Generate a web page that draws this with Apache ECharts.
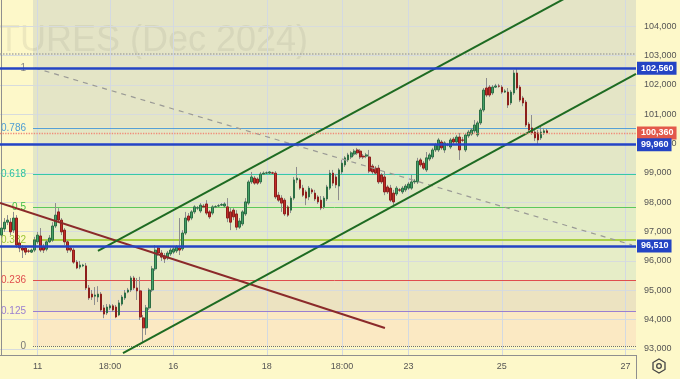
<!DOCTYPE html>
<html><head><meta charset="utf-8">
<script src="https://cdn.jsdelivr.net/npm/echarts@6/dist/echarts.min.js"></script>
<style>html,body{margin:0;padding:0;background:#fdf8c9}#c{width:680px;height:379px}</style>
</head><body><div id="c"></div>
<script>
const opens=[96880,97090,97320,97320,97050,97460,96610,96440,96440,96340,96300,96370,96650,96850,96480,96400,96650,96710,97190,97670,97390,97050,96650,96440,96370,95960,95790,95830,95830,95080,94870,94800,94770,94870,94400,94230,94400,94470,94430,94160,94530,94740,94940,95010,95420,95080,94980,94060,93720,94400,95010,95730,96440,96270,96170,96100,96240,96300,96340,96440,96410,96950,97530,97460,97670,97800,97700,97870,97940,97670,97630,97840,97870,97900,97870,97840,97670,97730,97600,97150,97260,97600,97970,98690,98820,98790,98690,98960,98990,98990,99000,98990,98240,98140,98070,97840,97730,98140,98760,98760,98480,98350,98180,98420,98310,98180,98070,97840,98110,98480,98990,98860,98550,99030,99270,99440,99540,99640,99780,99740,99570,99570,99540,99230,99160,99160,98930,98860,98520,98480,98310,98280,98420,98350,98420,98480,98480,98690,98690,99440,99330,99100,99470,99540,99780,99780,100050,99780,99950,99880,100150,100050,100220,100120,99780,100260,100320,100430,100290,100700,101140,101890,101920,101720,101920,101960,101920,101750,101750,101380,101720,102400,101920,101550,101410,100660,100530,100390,100360,100190,100360,100430];
const closes=[97120,97320,97390,96990,97460,96540,96440,96370,96300,96330,96370,96710,96880,96370,96370,96650,96780,97190,97560,97390,96990,96650,96370,96370,95960,95760,95860,95860,95080,94740,94770,94840,94870,94330,94190,94430,94470,94330,94090,94570,94770,94910,95010,95420,95080,94980,94090,93720,94400,95010,95730,96370,96270,96130,96070,96270,96370,96410,96480,96370,96950,97460,97390,97670,97840,97810,97900,97840,97630,97500,97840,97850,97880,97920,97940,97460,97320,97500,97150,97360,97670,98010,98690,98860,98650,98650,98960,98990,99000,99030,98990,98180,98070,97970,97600,97560,98140,98760,98820,98480,98240,98140,98480,98350,98110,98010,97800,98140,98520,98990,98650,98590,99100,99330,99510,99610,99680,99740,99680,99540,99540,99610,99060,99030,98990,98690,98690,98350,98350,98070,98010,98480,98410,98480,98550,98620,98690,98720,99400,99270,99160,99510,99610,99780,99950,100120,99850,100020,99960,100120,100050,100220,99780,100110,100290,100390,100460,100630,100700,101140,101820,101650,101650,101920,101960,101950,101750,101790,101310,101750,102400,101890,101480,101380,100630,100460,100360,100190,100120,100390,100430,100360];
const lows=[96780,96990,97220,96880,96950,96440,96300,96100,96200,96270,96270,96300,96580,96300,96270,96330,96610,96650,97120,97320,96880,96540,96270,96300,95900,95720,95720,95790,95010,94670,94670,94500,94600,94260,94050,94160,94330,94260,94050,94120,94470,94670,94900,94940,95010,94670,93990,93200,93480,94330,94940,95660,96170,96000,95930,96030,96170,96240,96270,96200,96340,96880,97320,97390,97600,97730,97630,97800,97560,97430,97560,97800,97840,97870,97840,97320,97050,97390,97050,97090,97190,97530,97900,98620,98590,98590,98620,98930,98960,98960,98960,98110,98010,97670,97530,97500,97630,98070,98650,98420,98180,97900,98070,98280,98040,97940,97730,97770,98040,98420,98550,98480,98070,98960,99200,99370,99470,99570,99610,99470,99470,99500,98990,98960,98930,98620,98620,98240,98280,98010,97870,98210,98350,98280,98350,98420,98420,98620,98620,99200,99100,99030,99400,99470,99710,99710,99780,99680,99900,99810,99980,99980,99440,100050,99710,100190,100260,100360,100220,100630,101070,101580,101580,101650,101890,101900,101690,101720,101210,101310,101650,101820,101410,101270,100560,100390,100290,100080,99950,100120,100290,100320];
const highs=[97260,97460,97560,97460,97670,97560,96710,96540,96500,96400,96420,96820,96990,97120,96580,96710,96880,97320,97970,97800,97460,97120,96710,96500,96440,96030,96000,95900,95930,95180,95010,95110,95140,94940,94500,94530,94530,94530,94500,94670,94840,95010,95080,95490,95490,95420,95460,94160,94500,95080,95830,96540,96510,96370,96270,96340,96440,96480,96540,97460,97050,97670,97630,97730,97900,97870,97970,97940,98070,97730,97900,97900,97940,97970,98000,98140,97800,97800,97730,97460,97730,98140,98760,99030,98890,98850,99030,99050,99050,99060,99040,99060,98350,98240,98140,97900,98210,98860,99200,98820,98590,98420,98550,98480,98420,98240,98210,98210,98590,99100,99100,98960,99160,99440,99570,99680,99740,99810,99850,99810,99640,99680,99780,99300,99230,99270,98990,99030,98590,98590,98420,98550,98480,98550,98620,98690,98930,98790,99510,99510,99400,99710,99680,99850,100020,100190,100120,100080,100020,100190,100220,100290,100360,100220,100360,100460,100530,100800,100770,101210,101890,102230,101990,101990,102030,102030,101990,101850,101890,101820,102500,102570,101990,101620,101480,100730,100970,100530,100460,100630,100530,100500];

const slotCount=211;
const xTickIdx=[12,36,57,88,113,135,166,207];
const xTickLabels=['11','18:00','16','18','18:00','23','25','27'];
const yTicks=[93000,94000,95000,96000,97000,98000,99000,100000,101000,102000,103000,104000];
const yMin=92796, yMax=104887;
const fibLow=93100, fibHigh=102560;
const fibRatios=[0,0.125,0.236,0.382,0.5,0.618,0.786,1];
const fibLabels=['0','0.125','0.236','0.382','0.5','0.618','0.786','1'];
const fibLineColors=['#6f6f6f','#9a7fd0','#e04e4e','#a9cf45','#5cc85c','#36c9a6','#56a0d6','#888888'];
const fibTextColors=['#777777','#9a7fd0','#e04e4e','#9cc437','#44c044','#2fc49e','#4f9ed4','#888888'];
const fibBandColors=['#fbe9c3','#ece3c1','#e6edc7','#e3ecc6','#e1eac6','#e3e7c6','#e4e5c6','#e4e4c6'];
const keyLevels=[102560,99960,96510];
const lastPrice=100360;
const dottedLevel=103050;
const fibStart=10.45, xEnd=210.5;
const upperChannel=[[32.0,96340],[198.2,105568]];
const lowerChannel=[[40.3,92864],[210.5,102367]];
const maroonLine=[[-0.5,97973],[127.2,93716]];
const dashedLine=[[11.1,102571],[209.2,96543]];

const fmt=v=>Math.round(v).toLocaleString('en-US');
const cats=Array.from({length:slotCount},(_, i)=>String(i));
const wickData=opens.map((o,i)=>[o,closes[i],lows[i],highs[i]]);
const bodyData=opens.map((o,i)=>[o,closes[i],Math.min(o,closes[i]),Math.max(o,closes[i])]);
const fibPrices=fibRatios.map(r=>fibLow+r*(fibHigh-fibLow));
const FONT='Liberation Sans';

const bands=[];
for(let i=0;i<fibPrices.length;i++){
  const top=i<fibPrices.length-1?fibPrices[i+1]:yMax;
  bands.push([{coord:[fibStart,fibPrices[i]],itemStyle:{color:fibBandColors[i]}},{coord:[xEnd,top]}]);
}
const fibLines=fibPrices.map((p,i)=>[
  {coord:[fibStart,p],lineStyle:{color:fibLineColors[i],width:i===3?2.2:1,type:i===0?'dotted':'solid',opacity:1},
   label:{show:true,position:'start',distance:7,formatter:fibLabels[i],color:fibTextColors[i],fontSize:10,fontFamily:FONT}},
  {coord:[xEnd,p]}
]);

const chart=echarts.init(document.getElementById('c'),null,{renderer:'canvas'});
chart.setOption({
  animation:false,
  backgroundColor:'#fdf8c9',
  grid:{left:0,right:44,top:0,bottom:24},
  xAxis:[
    {type:'category',data:cats,boundaryGap:true,show:false},
    {type:'value',min:-0.5,max:xEnd,position:'bottom',
     axisLine:{show:true,lineStyle:{color:'#8f8f8f',width:1}},
     axisTick:{show:false,customValues:xTickIdx},
     axisLabel:{customValues:xTickIdx,formatter:v=>{const k=xTickIdx.indexOf(Math.round(v));return k>=0?xTickLabels[k]:'';},
       color:'#555',fontSize:9,fontFamily:FONT,margin:7},
     splitLine:{show:true,lineStyle:{color:'#d3d9e2',width:1}}}
  ],
  yAxis:{type:'value',position:'right',min:yMin,max:yMax,
    axisLine:{show:true,lineStyle:{color:'#8f8f8f',width:1}},
    axisTick:{show:false,customValues:yTicks},
    axisLabel:{customValues:yTicks,formatter:v=>fmt(v),color:'#555',fontSize:9,fontFamily:FONT,margin:8},
    splitLine:{show:true,lineStyle:{color:'#d7dbdd',width:1}}},
  graphic:[
    {type:'text',left:-2,top:23,z:-0.5,silent:true,style:{text:'TURES (Dec 2024)',font:'36px "Liberation Sans"',fill:'rgba(110,110,100,0.11)'}},
    {type:'line',shape:{x1:636.5,y1:355,x2:636.5,y2:379},style:{stroke:'#8f8f8f',lineWidth:1}},
    {type:'polygon',shape:{points:[[659,359],[665,362.5],[665,369.5],[659,373],[653,369.5],[653,362.5]]},style:{fill:'none',stroke:'#444',lineWidth:1.3}},
    {type:'circle',shape:{cx:659,cy:366,r:2.3},style:{fill:'none',stroke:'#444',lineWidth:1.3}}
  ],
  series:[
    {type:'line',xAxisIndex:1,data:[],silent:true,
     markArea:{silent:true,z:-1,data:bands}},
    {type:'line',xAxisIndex:1,data:[],silent:true,
     markLine:{silent:true,symbol:'none',z:1,data:fibLines}},
    {type:'line',xAxisIndex:1,data:[],silent:true,
     markLine:{silent:true,symbol:'none',z:2,label:{show:false},
       data:[{yAxis:dottedLevel,lineStyle:{color:'#a9a9a2',type:'dotted',width:1.5}}]}},
    {type:'candlestick',xAxisIndex:0,data:wickData,barWidth:1,silent:true,
     itemStyle:{color:'#8d8d8d',color0:'#8d8d8d',borderColor:'#8d8d8d',borderColor0:'#8d8d8d',borderWidth:1}},
    {type:'candlestick',xAxisIndex:0,data:bodyData,barWidth:2.2,silent:true,
     itemStyle:{color:'#45a066',color0:'#c22d28',borderColor:'#2c6e45',borderColor0:'#8c1f1c',borderWidth:1}},
    {type:'line',xAxisIndex:1,data:dashedLine,showSymbol:false,silent:true,z:3,
     lineStyle:{color:'#9a9a96',width:1.2,type:[5,5]}},
    {type:'line',xAxisIndex:1,data:maroonLine,showSymbol:false,silent:true,z:4,
     lineStyle:{color:'#8b2a2a',width:2}},
    {type:'line',xAxisIndex:1,data:upperChannel,showSymbol:false,silent:true,z:4,
     lineStyle:{color:'#1e6b22',width:2}},
    {type:'line',xAxisIndex:1,data:lowerChannel,showSymbol:false,silent:true,z:4,
     lineStyle:{color:'#1e6b22',width:2}},
    {type:'line',xAxisIndex:1,data:[],silent:true,z:5,
     markLine:{silent:true,symbol:'none',z:6,
       data:[{yAxis:lastPrice,lineStyle:{color:'#f08a78',type:'dotted',width:1.3},
         label:{show:true,position:'end',distance:1,formatter:fmt(lastPrice),backgroundColor:'#e3594a',color:'#fff',
           fontWeight:'bold',fontSize:9,fontFamily:FONT,padding:[2,3,2,4]}}]}},
    {type:'line',xAxisIndex:1,data:[],silent:true,z:6,
     markLine:{silent:true,symbol:'none',z:7,
       data:keyLevels.map(v=>({yAxis:v,lineStyle:{color:'#2444c4',type:'solid',width:2.5},
         label:{show:true,position:'end',distance:1,formatter:fmt(v),backgroundColor:'#2444c4',color:'#fff',
           fontWeight:'bold',fontSize:9,fontFamily:FONT,padding:[2,3,2,4]}}))}}
  ]
});
</script></body></html>
